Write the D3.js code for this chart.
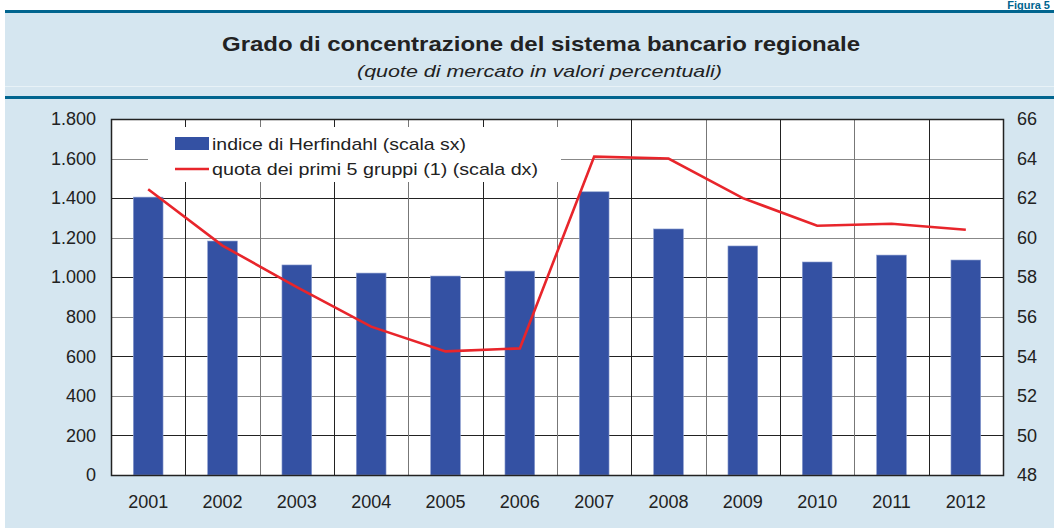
<!DOCTYPE html>
<html lang="it">
<head>
<meta charset="UTF-8">
<title>Grado di concentrazione del sistema bancario regionale</title>
<script src="https://d3js.org/d3.v7.min.js"></script>
<style>
  body { margin: 0; background: #fff; }
  svg text { font-family: "Liberation Sans", Arial, sans-serif; fill: #222; }
</style>
</head>
<body>
<svg id="chart" width="1054" height="528"></svg>
<script>
// data
const years = ["2001", "2002", "2003", "2004", "2005", "2006", "2007", "2008", "2009", "2010", "2011", "2012"];
const herfindahl = [1405, 1183, 1062, 1021, 1006, 1031, 1432, 1244, 1158, 1077, 1112, 1087];
const top5share = [62.45, 59.6, 57.5, 55.5, 54.25, 54.4, 64.1, 64.0, 62.0, 60.6, 60.7, 60.4];
const leftTicks = [0, 200, 400, 600, 800, 1000, 1200, 1400, 1600, 1800];
const rightTicks = [48, 50, 52, 54, 56, 58, 60, 62, 64, 66];
const legendLabels = ["indice di Herfindahl (scala sx)", "quota dei primi 5 gruppi (1) (scala dx)"];
const legendWidths = [254, 326];

const svg = d3.select("#chart");
const W = 1054, H = 528;
const m = { left: 111, right: 1003, top: 119, bottom: 475 };
const blue = "#3451a3", red = "#e8252b", band = "#00658f", panel = "#d5e6f0";

// background panels
svg.append("rect").attr("x", 5).attr("y", 11).attr("width", W - 5).attr("height", H - 11).attr("fill", panel);
svg.append("rect").attr("x", 5).attr("y", 10).attr("width", W - 5).attr("height", 3).attr("fill", band);
svg.append("rect").attr("x", 5).attr("y", 86).attr("width", W - 5).attr("height", 1).attr("fill", "#e8f2f7");
svg.append("rect").attr("x", 5).attr("y", 96).attr("width", W - 5).attr("height", 3).attr("fill", band);

svg.append("text").attr("x", W - 4).attr("y", 9).attr("text-anchor", "end")
  .style("font-weight", "bold").style("font-size", "11px").style("fill", "#00658f").text("Figura 5");

svg.append("text").attr("x", 222).attr("y", 51)
  .attr("textLength", 638).attr("lengthAdjust", "spacingAndGlyphs")
  .style("font-weight", "bold").style("font-size", "21px").text("Grado di concentrazione del sistema bancario regionale");
svg.append("text").attr("x", 357).attr("y", 77)
  .attr("textLength", 365).attr("lengthAdjust", "spacingAndGlyphs")
  .style("font-style", "italic").style("font-size", "17px").text("(quote di mercato in valori percentuali)");

// scales
const x = d3.scaleBand().domain(years).range([m.left, m.right]).paddingInner(0.6).paddingOuter(0.3);
const xGrid = d3.scaleBand().domain(years).range([m.left, m.right]);
const yL = d3.scaleLinear().domain([0, 1800]).range([m.bottom, m.top]);
const yR = d3.scaleLinear().domain([48, 66]).range([m.bottom, m.top]);

svg.append("rect").attr("x", m.left).attr("y", m.top).attr("width", m.right - m.left)
  .attr("height", m.bottom - m.top).attr("fill", "#fff");

// grid
const grid = svg.append("g");
grid.selectAll("line.h").data(leftTicks.slice(1, -1)).join("line")
  .attr("x1", m.left).attr("x2", m.right)
  .attr("y1", d => Math.round(yL(d)) + 0.5).attr("y2", d => Math.round(yL(d)) + 0.5)
  .attr("stroke", (d, i) => i % 2 === 0 ? "#222" : "#888").attr("stroke-width", 1.2);
grid.selectAll("line.v").data(years.slice(1)).join("line")
  .attr("x1", d => Math.round(xGrid(d)) + 0.5).attr("x2", d => Math.round(xGrid(d)) + 0.5)
  .attr("y1", m.top).attr("y2", m.bottom)
  .attr("stroke", (d, i) => i % 2 === 0 ? "#222" : "#777").attr("stroke-width", 1);

// legend box (white, covers grid)
svg.append("rect").attr("x", 148).attr("y", 127).attr("width", 413).attr("height", 55).attr("fill", "#fff");

// bars
svg.append("g").selectAll("rect").data(years).join("rect")
  .attr("x", d => x(d)).attr("width", x.bandwidth())
  .attr("y", (d, i) => yL(herfindahl[i])).attr("height", (d, i) => m.bottom - yL(herfindahl[i]))
  .attr("fill", blue).attr("stroke", "#8d9fd0").attr("stroke-width", 0.6);

// line
const line = d3.line().x(d => xGrid(d[0]) + xGrid.bandwidth() / 2).y(d => yR(d[1]));
svg.append("path").datum(years.map((y, i) => [y, top5share[i]]))
  .attr("d", line).attr("fill", "none").attr("stroke", red).attr("stroke-width", 2.6);

// frame
svg.append("rect").attr("x", m.left + 0.5).attr("y", m.top + 0.5)
  .attr("width", m.right - m.left).attr("height", m.bottom - m.top)
  .attr("fill", "none").attr("stroke", "#222").attr("stroke-width", 1.5);

// axes
const itFmt = d3.formatLocale({ decimal: ",", thousands: ".", grouping: [3], currency: ["€", ""] }).format(",d");
const axL = svg.append("g").attr("transform", `translate(${m.left},0)`)
  .call(d3.axisLeft(yL).tickValues(leftTicks).tickFormat(itFmt).tickSize(0).tickPadding(15));
const axR = svg.append("g").attr("transform", `translate(${m.right},0)`)
  .call(d3.axisRight(yR).tickValues(rightTicks).tickSize(0).tickPadding(14));
const axB = svg.append("g").attr("transform", `translate(0,${m.bottom})`)
  .call(d3.axisBottom(xGrid).tickSize(0).tickPadding(20));
[axL, axR, axB].forEach(a => {
  a.select(".domain").remove();
  a.selectAll("text").style("font-size", "18px").style("font-family", "Liberation Sans, Arial, sans-serif").attr("fill", "#222");
});

// legend
const lg = svg.append("g");
lg.append("rect").attr("x", 175).attr("y", 137).attr("width", 34).attr("height", 13).attr("fill", blue);
lg.append("line").attr("x1", 175).attr("x2", 209).attr("y1", 169).attr("y2", 169).attr("stroke", red).attr("stroke-width", 2.6);
lg.selectAll("text").data(legendLabels).join("text")
  .attr("x", 212).attr("y", (d, i) => 150 + i * 25)
  .attr("textLength", (d, i) => legendWidths[i]).attr("lengthAdjust", "spacingAndGlyphs")
  .style("font-size", "17px").text(d => d);
</script>
</body>
</html>
